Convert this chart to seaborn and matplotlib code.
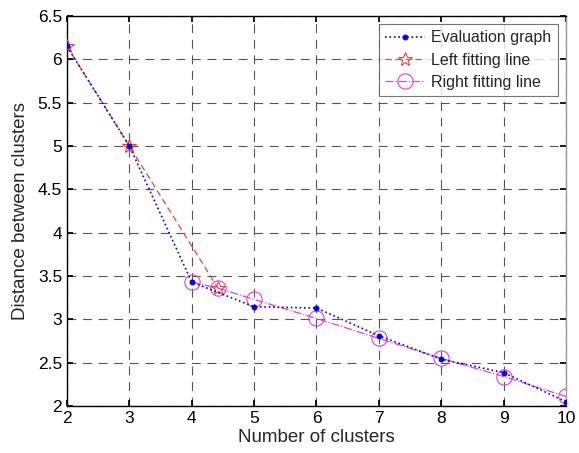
import matplotlib
matplotlib.use("Agg")
import matplotlib.pyplot as plt
import seaborn as sns
import pandas as pd

eval_x = [2, 3, 4, 5, 6, 7, 8, 9, 10]
eval_y = [6.15, 5.0, 3.43, 3.145, 3.13, 2.81, 2.54, 2.385, 2.05]
left_x = [2, 3, 4.42]
left_y = [6.15, 5.0, 3.36]
right_x = [4, 4.42, 5, 6, 7, 8, 9, 10]
right_y = [3.43, 3.36, 3.23, 3.01, 2.78, 2.55, 2.34, 2.11]
x_ticks = [2, 3, 4, 5, 6, 7, 8, 9, 10]
y_ticks = [2, 2.5, 3, 3.5, 4, 4.5, 5, 5.5, 6, 6.5]
y_tick_labels = ["2", "2.5", "3", "3.5", "4", "4.5", "5", "5.5", "6", "6.5"]

sns.set_theme(style="white")
plt.rcParams["font.family"] = ["Liberation Sans", "DejaVu Sans"]

fig = plt.figure(figsize=(5.79, 4.53), dpi=100)
ax = fig.add_axes([0.1157, 0.1038, 0.8618, 0.8609])

df_e = pd.DataFrame({"x": eval_x, "y": eval_y})
df_l = pd.DataFrame({"x": left_x, "y": left_y})
df_r = pd.DataFrame({"x": right_x, "y": right_y})

sns.lineplot(data=df_e, x="x", y="y", ax=ax, color="#0000ee", linestyle=":",
             linewidth=1.2, marker="o", markersize=3.5, markeredgecolor="#0000ee",
             label="Evaluation graph", sort=False, zorder=5)
sns.lineplot(data=df_l, x="x", y="y", ax=ax, color="#e8443a", linestyle=(0, (5, 3)),
             linewidth=0.9, marker="*", markersize=10, markerfacecolor="none",
             markeredgecolor="#e8443a", markeredgewidth=0.8,
             label="Left fitting line", sort=False, zorder=4)
sns.lineplot(data=df_r, x="x", y="y", ax=ax, color="#e040e0", linestyle="-.",
             linewidth=0.9, marker="o", markersize=11, markerfacecolor="none",
             markeredgecolor="#e040e0", markeredgewidth=0.8,
             label="Right fitting line", sort=False, zorder=3)

ax.set_xlim(2, 10)
ax.set_ylim(2, 6.5)
ax.set_xticks(x_ticks)
ax.set_xticklabels([str(t) for t in x_ticks])
ax.set_yticks(y_ticks)
ax.set_yticklabels(y_tick_labels)
ax.grid(True, color="#555555", linestyle=(0, (8, 6)), linewidth=0.8)
ax.tick_params(direction="in", length=4, labelsize=12.5, colors="black",
               top=True, right=True, bottom=True, left=True)
for s in ax.spines.values():
    s.set_color("black")
    s.set_linewidth(1.0)
ax.spines["right"].set_color("#999999")
ax.set_xlabel("Number of clusters", fontsize=13.5, labelpad=2)
ax.set_ylabel("Distance between clusters", fontsize=13.5, labelpad=6)

leg = ax.legend(loc="upper right", fontsize=11.5, frameon=True, fancybox=False,
                edgecolor="#555555", borderpad=0.4, labelspacing=0.45,
                handlelength=2.5, handletextpad=0.4, borderaxespad=0.5)
leg.get_frame().set_linewidth(0.8)

fig.savefig("out.png", dpi=100)
